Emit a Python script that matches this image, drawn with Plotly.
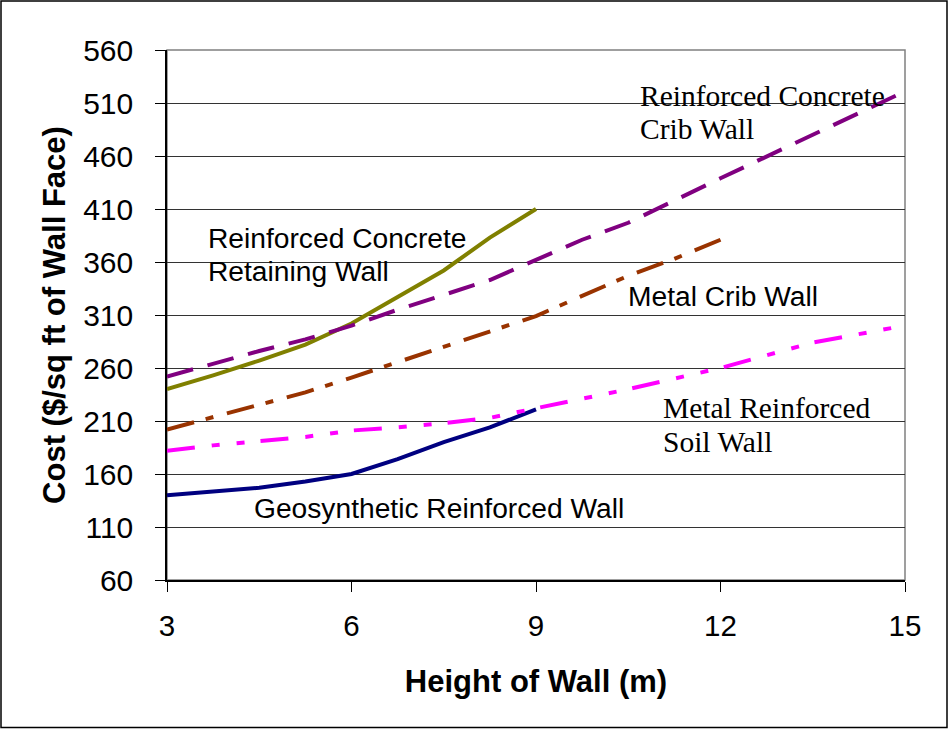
import plotly.graph_objects as go

# ---- data ----
geo_x = [3, 4.5, 5.25, 6, 6.75, 7.5, 8.25, 9]
geo_y = [140, 147, 153, 160, 174, 190, 204, 221]

rc_ret_x = [3, 3.75, 4.5, 5.25, 6, 6.75, 7.5, 8.25, 9]
rc_ret_y = [240, 253, 267, 282, 302, 327, 352, 383, 410]

rc_crib_x = [3, 4.5, 5.25, 6, 6.75, 7.5, 8.25, 9, 9.75, 10.5, 12, 15]
rc_crib_y = [252, 276, 287, 300, 315, 329, 343, 362, 381, 397, 439, 521]

metal_crib_x = [3, 4.5, 5.25, 6, 7.5, 9, 10.5, 11.25, 12]
metal_crib_y = [202, 225, 237, 251, 280, 309, 347, 363, 381]

mrs_x = [3, 3.75, 4.5, 5.25, 6, 6.75, 7.5, 8.25, 9, 10.5, 12, 13.5, 15]
mrs_y = [182, 187, 191, 195, 201, 204, 208, 213, 222, 240, 260, 284, 300]

x_ticks = [3, 6, 9, 12, 15]
y_ticks = [60, 110, 160, 210, 260, 310, 360, 410, 460, 510, 560]

W, H = 949, 729
L, R, T, B = 167, 44, 50, 149
PW, PH = W - L - R, H - T - B

def px_x(px):
    return (px - L) / PW

def px_y(py):
    return (H - B - py) / PH

SANS = "Liberation Sans, Arial, sans-serif"
SERIF = "Liberation Serif, Times New Roman, serif"

fig = go.Figure()

series = [
    (geo_x, geo_y, "#000080", "solid", "Geosynthetic Reinforced Wall"),
    (rc_ret_x, rc_ret_y, "#808000", "solid", "Reinforced Concrete Retaining Wall"),
    (rc_crib_x, rc_crib_y, "#800080", "27px,15px", "Reinforced Concrete Crib Wall"),
    (metal_crib_x, metal_crib_y, "#993300", "28px,12px,8px,14px", "Metal Crib Wall"),
    (mrs_x, mrs_y, "#FF00FF", "28px,17px,8px,17px,8px,16px", "Metal Reinforced Soil Wall"),
]
for xs, ys, col, dash, name in series:
    fig.add_trace(go.Scatter(x=xs, y=ys, mode="lines", name=name,
                             line=dict(color=col, width=4, dash=dash),
                             showlegend=False, hoverinfo="skip"))

annots = [
    ("Reinforced Concrete", 3.634, 383.1, SANS, 28.2),
    ("Retaining Wall", 3.634, 351.5, SANS, 28.2),
    ("Metal Crib Wall", 10.46, 328.2, SANS, 28.2),
    ("Geosynthetic Reinforced Wall", 4.382, 128.2, SANS, 28.2),
    ("Reinforced Concrete", 10.66, 516.9, SERIF, 29.5),
    ("Crib Wall", 10.66, 485.8, SERIF, 29.5),
    ("Metal Reinforced", 11.03, 222.5, SERIF, 29.5),
    ("Soil Wall", 11.03, 190.5, SERIF, 29.5),
]
for txt, ax, ay, fam, fs in annots:
    fig.add_annotation(x=ax, y=ay, text=txt, showarrow=False, xanchor="left",
                       yanchor="middle", font=dict(family=fam, size=fs, color="black"))

# outer chart border
fig.add_shape(type="rect", xref="paper", yref="paper",
              x0=px_x(1), x1=px_x(947), y0=px_y(727.5), y1=px_y(1),
              line=dict(color="black", width=1.5), layer="above")
# plot area border (gray)
fig.add_shape(type="rect", xref="paper", yref="paper", x0=0, x1=1, y0=0, y1=1,
              line=dict(color="#808080", width=1.5), layer="below")

fig.update_layout(
    width=W, height=H,
    margin=dict(l=L, r=R, t=T, b=B, pad=0),
    paper_bgcolor="white", plot_bgcolor="white",
    font=dict(family=SANS, color="black"),
    xaxis=dict(range=[3, 15], tickvals=x_ticks, ticktext=[str(v) for v in x_ticks],
               showgrid=False, zeroline=False, showline=True, linecolor="black",
               linewidth=1.5, ticks="outside", ticklen=10, tickcolor="black",
               tickfont=dict(size=29.5, family=SANS), ticklabelstandoff=9,
               title=dict(text="<b>Height of Wall (m)</b>", font=dict(size=31, family=SANS),
                          standoff=29)),
    yaxis=dict(range=[60, 560], tickvals=y_ticks, ticktext=[str(v) for v in y_ticks],
               showgrid=True, gridcolor="#333333", gridwidth=1, zeroline=False,
               showline=True, linecolor="black", linewidth=1.5, ticks="outside",
               ticklen=10, tickcolor="black", ticklabelstandoff=16,
               tickfont=dict(size=30, family=SANS),
               title=dict(text="<b>Cost ($/sq ft of Wall Face)</b>",
                          font=dict(size=31, family=SANS), standoff=8)),
)

fig.write_html("out.html")
